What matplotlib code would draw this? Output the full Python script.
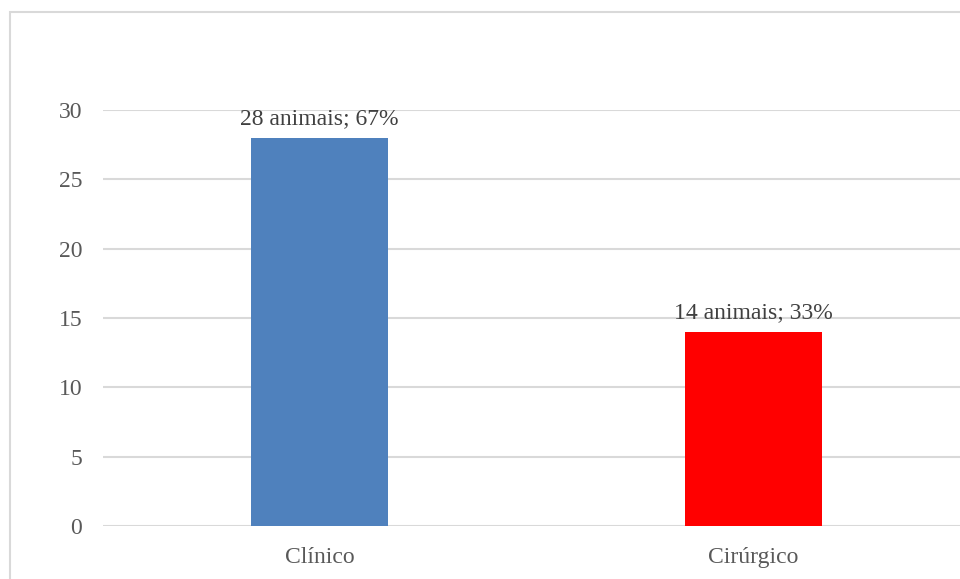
import matplotlib.pyplot as plt
from matplotlib.patches import Rectangle

# data
categories = ["Clínico", "Cirúrgico"]
values = [28, 14]
labels = ["28 animais; 67%", "14 animais; 33%"]
colors = ["#4F81BD", "#FF0000"]

plt.rcParams['font.family'] = ['Liberation Serif', 'DejaVu Serif']

fig = plt.figure(figsize=(9.6, 5.79), dpi=100)
ax = fig.add_axes([103 / 960, 53 / 579, 867 / 960, 416 / 579])

x = range(len(categories))
bars = ax.bar(x, values, width=0.316, color=colors, zorder=3)
for b, lab in zip(bars, labels):
    ax.text(b.get_x() + b.get_width() / 2, b.get_height() + 0.6, lab,
            ha="center", va="bottom", fontsize=17, color="#404040")

ax.set_xlim(-0.5, 1.5)
ax.set_ylim(0, 30)
ax.set_yticks(range(0, 31, 5))
ax.set_xticks(list(x))
ax.set_xticklabels(categories)
ax.yaxis.grid(True, color="#D9D9D9", linewidth=1.5, zorder=0)
for s in ax.spines.values():
    s.set_visible(False)
ax.tick_params(length=0, labelsize=17, colors="#595959")
ax.tick_params(axis="y", pad=15)
ax.tick_params(axis="x", pad=15)

# chart border (extends past the right and bottom edges)
fig.patches.append(Rectangle((10 / 960, -0.1), 1.0, 1 - 12 / 579 + 0.1,
                             transform=fig.transFigure, fill=False,
                             edgecolor="#D9D9D9", linewidth=1.5))

fig.savefig("out.png", dpi=100)
